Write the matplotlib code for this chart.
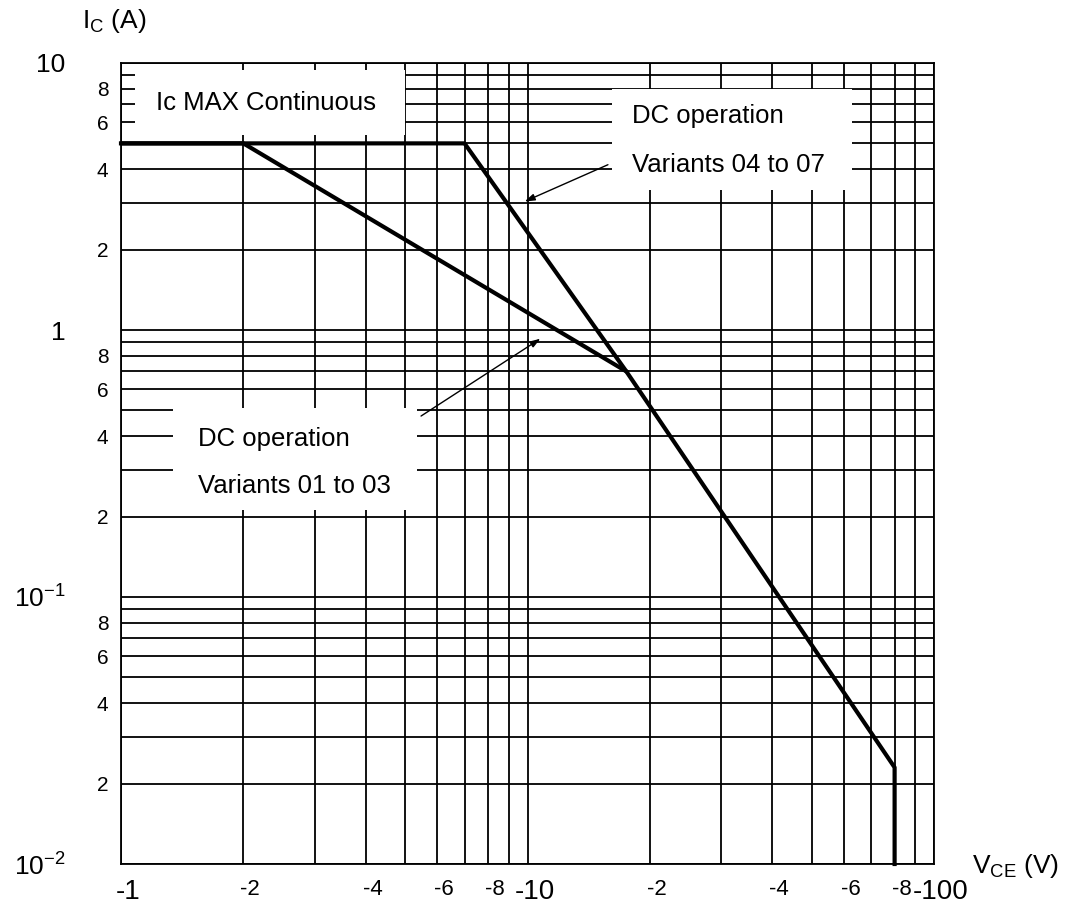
import matplotlib
matplotlib.use("Agg")
import matplotlib.pyplot as plt
from matplotlib.patches import Rectangle
from matplotlib.transforms import ScaledTranslation

plt.rcParams['font.family'] = ['Liberation Sans', 'DejaVu Sans']
plt.rcParams['mathtext.default'] = 'regular'

# safe operating area curves (VCE in V, shown as negative labels; IC in A)
vce_04_07 = [1, 7, 17.5, 80, 80]
ic_04_07 = [5, 5, 0.7, 0.023, 0.01]
vce_01_03 = [1, 2, 17.5]
ic_01_03 = [5, 5, 0.7]

# tick positions and labels
x_major = [1, 10, 100]
x_major_labels = ['-1', '-10', '-100']
x_minor = [2, 3, 4, 5, 6, 7, 8, 9, 20, 30, 40, 50, 60, 70, 80, 90]
x_minor_labels = ['-2', '', '-4', '', '-6', '', '-8', '',
                  '-2', '', '-4', '', '-6', '', '-8', '']
y_major = [0.01, 0.1, 1, 10]
y_major_labels = ['10$^{-2}$', '10$^{-1}$', '1', '10']
y_minor = [0.02, 0.03, 0.04, 0.05, 0.06, 0.07, 0.08, 0.09,
           0.2, 0.3, 0.4, 0.5, 0.6, 0.7, 0.8, 0.9,
           2, 3, 4, 5, 6, 7, 8, 9]
y_minor_labels = ['2', '', '4', '', '6', '', '8', ''] * 3

fig = plt.figure(figsize=(10.65, 9.07), dpi=100)
ax = fig.add_axes([121 / 1065, 43 / 907, 813 / 1065, 801 / 907])
ax.set_xscale('log')
ax.set_yscale('log')
ax.set_xlim(1, 100)
ax.set_ylim(0.01, 10)

ax.set_xticks(x_major, labels=x_major_labels)
ax.set_xticks(x_minor, labels=x_minor_labels, minor=True)
ax.set_yticks(y_major, labels=y_major_labels)
ax.set_yticks(y_minor, labels=y_minor_labels, minor=True)

ax.tick_params(which='both', length=0)
ax.tick_params(axis='x', which='major', labelsize=20, pad=11)
ax.tick_params(axis='x', which='minor', labelsize=16, pad=11)
ax.tick_params(axis='y', which='major', labelsize=19, pad=40)
ax.tick_params(axis='y', which='minor', labelsize=15, pad=9)

shift = ScaledTranslation(0.07, 0, fig.dpi_scale_trans)
for lab in ax.get_xticklabels(which='both'):
    lab.set_transform(lab.get_transform() + shift)

ax.set_axisbelow(True)
ax.grid(True, which='both', color='black', lw=1.3)
for s in ax.spines.values():
    s.set_linewidth(1.3)

# white label boxes that cut the grid
boxes = [(0.017, 0.910, 0.332, 0.081),
         (0.604, 0.841, 0.295, 0.127),
         (0.064, 0.442, 0.300, 0.127)]
for bx, by, bw, bh in boxes:
    ax.add_patch(Rectangle((bx, by), bw, bh, transform=ax.transAxes,
                           facecolor='white', edgecolor='none', zorder=1))

ax.plot(vce_04_07, ic_04_07, color='black', lw=3, zorder=3, clip_on=False)
ax.plot(vce_01_03, ic_01_03, color='black', lw=3, zorder=3)

ax.text(0.043, 0.941, 'Ic MAX Continuous', transform=ax.transAxes,
        fontsize=18.5, va='baseline', zorder=4)
ax.text(0.629, 0.925, 'DC operation', transform=ax.transAxes,
        fontsize=18.5, va='baseline', zorder=4)
ax.text(0.629, 0.864, 'Variants 04 to 07', transform=ax.transAxes,
        fontsize=18.5, va='baseline', zorder=4)
ax.text(0.0947, 0.522, 'DC operation', transform=ax.transAxes,
        fontsize=18.5, va='baseline', zorder=4)
ax.text(0.0947, 0.463, 'Variants 01 to 03', transform=ax.transAxes,
        fontsize=18.5, va='baseline', zorder=4)

arrow = dict(arrowstyle='-|>,head_length=0.6,head_width=0.2', color='black', lw=1)
ax.annotate('', xy=(9.7, 3.0), xytext=(16, 4.2), arrowprops=arrow, zorder=4)
ax.annotate('', xy=(10.9, 0.94), xytext=(5.4, 0.47), arrowprops=arrow, zorder=4)

fig.text(82 / 1065, 1 - 21 / 907, 'I$_{C}$ (A)', fontsize=19, va='center')
fig.text(972 / 1065, 1 - 866 / 907, 'V$_{CE}$ (V)', fontsize=19, va='center')

fig.savefig('out.png', dpi=100)
